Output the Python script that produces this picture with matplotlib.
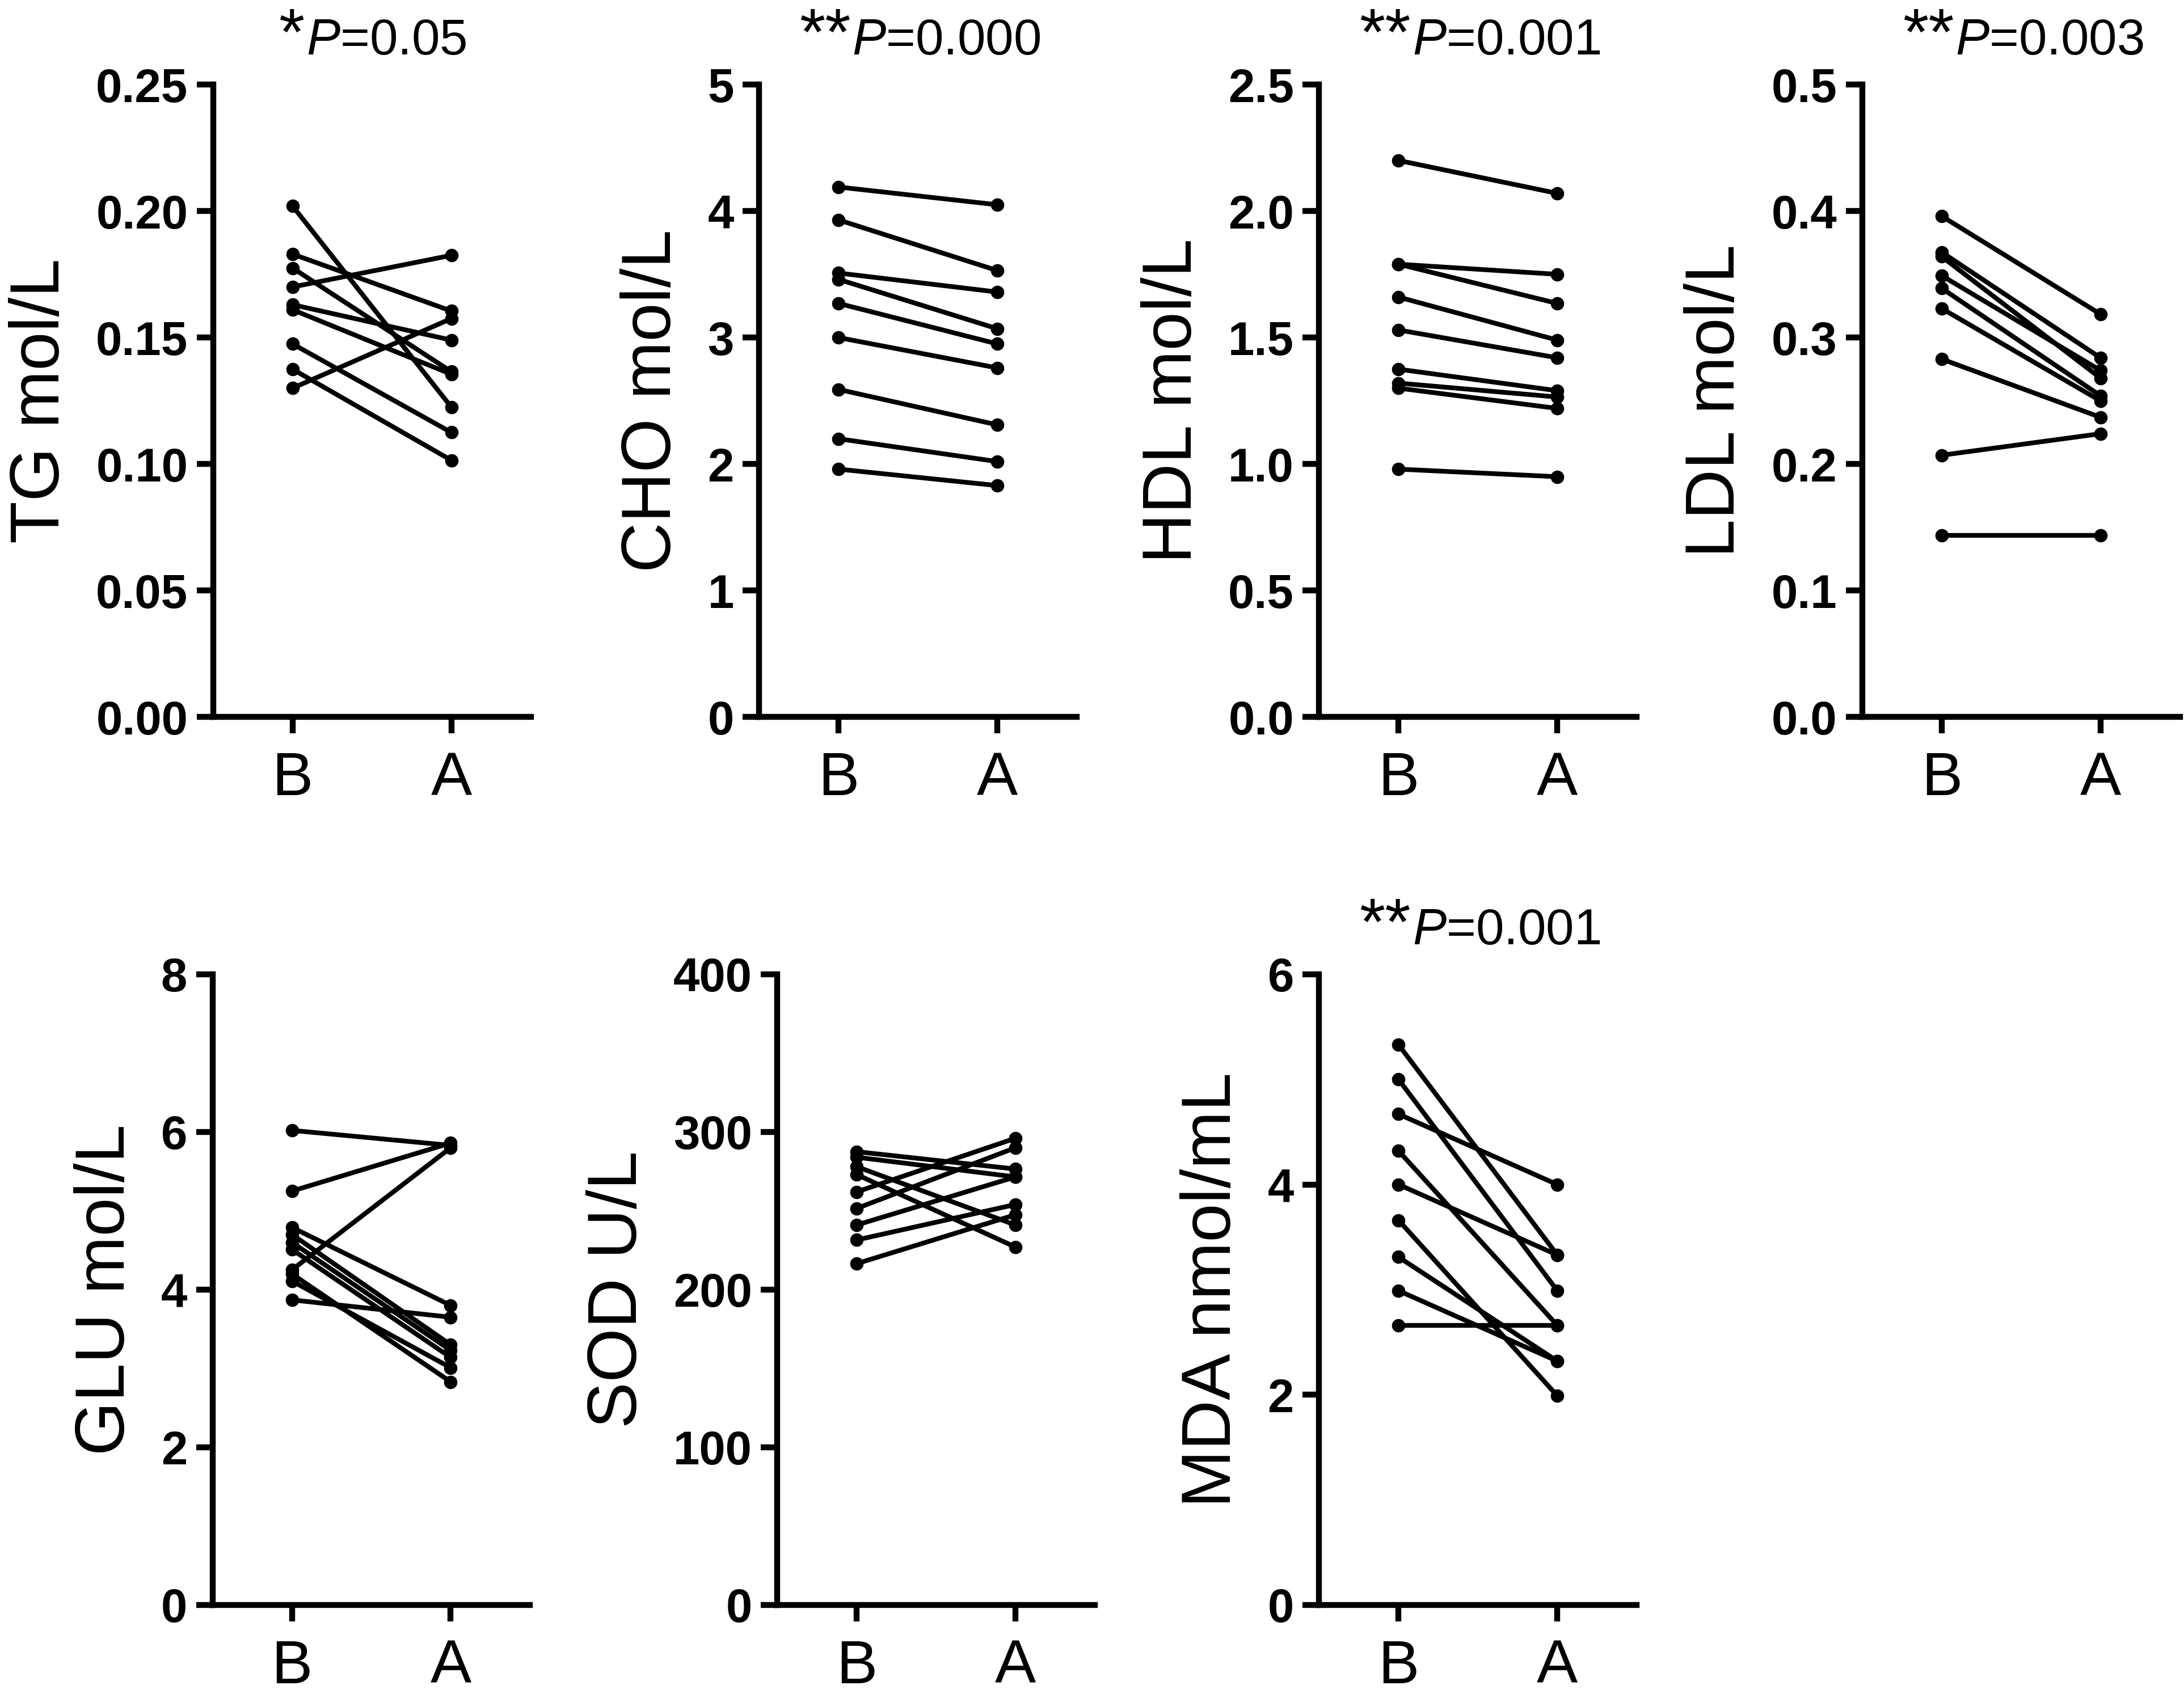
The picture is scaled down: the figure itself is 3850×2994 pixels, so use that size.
import matplotlib
matplotlib.use("Agg")
import matplotlib.pyplot as plt
from matplotlib.ticker import FormatStrFormatter

plt.rcParams["font.family"] = ["Liberation Sans", "DejaVu Sans"]
plt.rcParams["mathtext.fontset"] = "custom"
plt.rcParams["mathtext.rm"] = "Liberation Sans"
plt.rcParams["mathtext.it"] = "Liberation Sans:italic"

groups = ["B", "A"]

# paired values, before (B) and after (A)
tg_before = [0.202, 0.183, 0.1775, 0.170, 0.163, 0.161, 0.1475, 0.1375, 0.130]
tg_after = [0.1225, 0.1605, 0.1365, 0.1825, 0.149, 0.1355, 0.1125, 0.1015, 0.1575]

cho_before = [4.19, 3.93, 3.51, 3.46, 3.27, 3.00, 2.59, 2.20, 1.96]
cho_after = [4.05, 3.53, 3.36, 3.07, 2.95, 2.76, 2.31, 2.02, 1.83]

hdl_before = [2.20, 1.79, 1.79, 1.66, 1.53, 1.375, 1.32, 1.30, 0.98]
hdl_after = [2.07, 1.75, 1.635, 1.49, 1.42, 1.29, 1.265, 1.22, 0.95]

ldl_before = [0.396, 0.3675, 0.364, 0.349, 0.339, 0.323, 0.283, 0.207, 0.1435]
ldl_after = [0.3185, 0.284, 0.268, 0.274, 0.254, 0.250, 0.237, 0.224, 0.1435]

glu_before = [6.02, 5.25, 4.79, 4.70, 4.60, 4.51, 4.25, 4.20, 4.11, 3.87]
glu_after = [5.83, 5.86, 3.80, 3.30, 3.23, 3.14, 5.80, 2.83, 3.01, 3.65]

sod_before = [287.5, 284, 278, 273, 262, 251.5, 241, 231.5, 216.5]
sod_after = [276.5, 271.5, 241, 227, 296, 290, 271.5, 254, 247.5]

mda_before = [5.33, 5.00, 4.67, 4.32, 4.00, 3.66, 3.31, 2.99, 2.66]
mda_after = [3.33, 2.99, 4.00, 2.66, 3.33, 1.99, 2.32, 2.32, 2.66]

labels = ["TG mol/L", "CHO mol/L", "HDL mol/L", "LDL mol/L",
          "GLU mol/L", "SOD U/L", "MDA nmol/mL"]
befores = [tg_before, cho_before, hdl_before, ldl_before, glu_before, sod_before, mda_before]
afters = [tg_after, cho_after, hdl_after, ldl_after, glu_after, sod_after, mda_after]
ymax = [0.25, 5, 2.5, 0.5, 8, 400, 6]
ystep = [0.05, 1, 0.5, 0.1, 2, 100, 2]
yfmt = ["%.2f", "%d", "%.1f", "%.1f", "%d", "%d", "%d"]
stars = ["*", "**", "**", "**", None, None, "**"]
pvals = ["0.05", "0.000", "0.001", "0.003", None, None, "0.001"]

# axes rectangles (figure fraction)
w_ax = 0.1454
boxes = [
    [0.0976, 0.5777, w_ax, 0.3725],
    [0.3476, 0.5777, w_ax, 0.3725],
    [0.6040, 0.5777, w_ax, 0.3725],
    [0.8527, 0.5777, w_ax, 0.3725],
    [0.0973, 0.0548, w_ax, 0.3714],
    [0.3559, 0.0548, w_ax, 0.3714],
    [0.6040, 0.0548, w_ax, 0.3714],
]

fig = plt.figure(figsize=(38.5, 29.94), dpi=100)

for i in range(7):
    ax = fig.add_axes(boxes[i])
    for b, a in zip(befores[i], afters[i]):
        ax.plot([0, 1], [b, a], color="black", lw=6, marker="o", ms=16,
                solid_capstyle="round")

    ax.set_xlim(-0.5, 1.5)
    ax.set_ylim(0, ymax[i])
    n = int(round(ymax[i] / ystep[i]))
    ax.set_yticks([k * ystep[i] for k in range(n + 1)])
    ax.yaxis.set_major_formatter(FormatStrFormatter(yfmt[i]))
    ax.set_xticks([0, 1], groups)

    for s in ["top", "right"]:
        ax.spines[s].set_visible(False)
    for s in ["left", "bottom"]:
        ax.spines[s].set_linewidth(7.5)

    ax.tick_params(axis="y", length=21, width=7.5, pad=11, labelsize=60)
    ax.tick_params(axis="x", length=21, width=7.5, pad=22, labelsize=78)
    for t in ax.get_yticklabels():
        t.set_fontweight("bold")

    ax.set_ylabel(labels[i], fontsize=88, labelpad=29)

    if stars[i]:
        shift = 0.045 * len(stars[i])
        ttl = ax.set_title(r"$\mathit{P}$=" + pvals[i], fontsize=64, pad=38,
                           x=0.5 + shift)
        ax.annotate(stars[i], xy=(0, 1), xycoords=ttl, xytext=(-2, 14),
                    textcoords="offset points", ha="right", va="top",
                    fontsize=84)

fig.savefig("out.png", dpi=100)
